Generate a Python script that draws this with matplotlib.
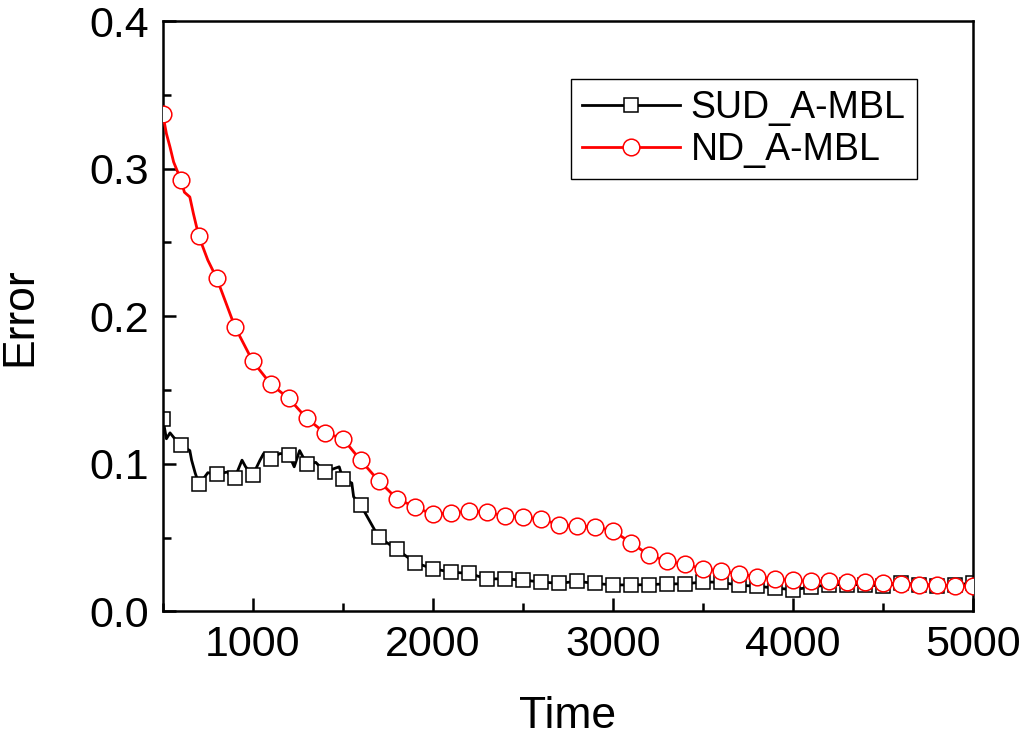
import numpy as np
import matplotlib
matplotlib.use("Agg")
import matplotlib.pyplot as plt
from matplotlib.ticker import MultipleLocator

plt.rcParams['font.family'] = ['Liberation Sans', 'DejaVu Sans']

# SUD_A-MBL (black, squares every 100)
sud_t = [500, 520, 540, 560, 600, 650, 660, 680, 700, 720, 750, 800, 860, 880, 900,
         940, 960, 1000, 1040, 1060, 1100, 1150, 1200, 1230, 1260, 1300, 1350, 1400,
         1480, 1500, 1550, 1560, 1600, 1700, 1800, 1900, 2000, 2100, 2200, 2300, 2400,
         2500, 2600, 2700, 2800, 2900, 3000, 3100, 3200, 3300, 3400, 3500, 3600, 3700,
         3800, 3900, 4000, 4100, 4200, 4300, 4400, 4500, 4600, 4700, 4800, 4900, 5000]
sud_v = [0.1307, 0.117, 0.121, 0.118, 0.1127, 0.109, 0.1025, 0.0937, 0.0867, 0.089,
         0.094, 0.093, 0.0945, 0.090, 0.0906, 0.1025, 0.098, 0.0924, 0.1025, 0.107,
         0.103, 0.107, 0.1063, 0.098, 0.109, 0.0998, 0.101, 0.0946, 0.098, 0.090,
         0.087, 0.0777, 0.072, 0.0502, 0.0422, 0.0331, 0.029, 0.0267, 0.0258, 0.0221,
         0.0221, 0.0212, 0.0201, 0.019, 0.0205, 0.019, 0.018, 0.018, 0.0182, 0.0187,
         0.0187, 0.020, 0.0198, 0.0178, 0.0171, 0.0159, 0.0148, 0.0164, 0.0182, 0.0182,
         0.0182, 0.0171, 0.0194, 0.0182, 0.0176, 0.0178, 0.0194]

# ND_A-MBL (red, circles every 100)
nd_t = [500, 520, 540, 560, 600, 620, 650, 670, 700, 750, 800, 900, 1000, 1100, 1200,
        1300, 1400, 1500, 1600, 1700, 1800, 1900, 2000, 2100, 2200, 2300, 2400, 2500,
        2600, 2700, 2800, 2900, 3000, 3100, 3200, 3300, 3400, 3500, 3600, 3700, 3800,
        3900, 4000, 4100, 4200, 4300, 4400, 4500, 4600, 4700, 4800, 4900, 5000]
nd_v = [0.3368, 0.3237, 0.3146, 0.3045, 0.2925, 0.284, 0.2808, 0.2695, 0.2542, 0.238,
        0.2256, 0.193, 0.1694, 0.154, 0.1443, 0.1308, 0.121, 0.1171, 0.1023, 0.0884,
        0.0765, 0.0708, 0.0658, 0.0669, 0.0678, 0.0674, 0.0646, 0.0639, 0.0628, 0.0587,
        0.0577, 0.0574, 0.0547, 0.0467, 0.0383, 0.0342, 0.0319, 0.029, 0.0274, 0.0255,
        0.0235, 0.0221, 0.021, 0.0205, 0.0205, 0.020, 0.0198, 0.0194, 0.0187, 0.0182,
        0.0178, 0.0176, 0.0171]

y_ticks = [0.0, 0.1, 0.2, 0.3, 0.4]
y_ticklabels = ['0.0', '0.1', '0.2', '0.3', '0.4']

sud_t = np.array(sud_t)
nd_t = np.array(nd_t)

fig = plt.figure(figsize=(10.24, 7.37), dpi=100)
ax = fig.add_axes([0.159, 0.1703, 0.791, 0.8012])

ax.plot(sud_t, sud_v, color='black', lw=2.0, marker='s', markersize=10.5,
        markerfacecolor='white', markeredgecolor='black', markeredgewidth=1.1,
        markevery=list(sud_t % 100 == 0), label='SUD_A-MBL', zorder=2)
ax.plot(nd_t, nd_v, color='red', lw=2.0, marker='o', markersize=12,
        markerfacecolor='white', markeredgecolor='red', markeredgewidth=1.1,
        markevery=list(nd_t % 100 == 0), label='ND_A-MBL', zorder=3)

ax.set_xlim(500, 5000)
ax.set_ylim(0, 0.4)
ax.xaxis.set_major_locator(MultipleLocator(1000))
ax.xaxis.set_minor_locator(MultipleLocator(500))
ax.set_yticks(y_ticks)
ax.set_yticklabels(y_ticklabels)
ax.yaxis.set_minor_locator(MultipleLocator(0.05))

ax.tick_params(which='major', direction='in', length=9.5, width=1.8, labelsize=31, pad=10,
               top=False, right=False)
ax.tick_params(which='minor', direction='in', length=5.5, width=1.8, top=False, right=False)
for s in ax.spines.values():
    s.set_linewidth(1.8)

ax.set_xlabel('Time', fontsize=32, labelpad=22)
ax.set_ylabel('Error', fontsize=32, labelpad=35)

leg = ax.legend(loc='upper right', bbox_to_anchor=(0.931, 0.902), borderaxespad=0,
                fontsize=27, fancybox=False, framealpha=1, edgecolor='black',
                handlelength=2.6, borderpad=0.3, labelspacing=0.15, handletextpad=0.3)
leg.get_frame().set_linewidth(1.0)

fig.savefig('out.png', dpi=100)
